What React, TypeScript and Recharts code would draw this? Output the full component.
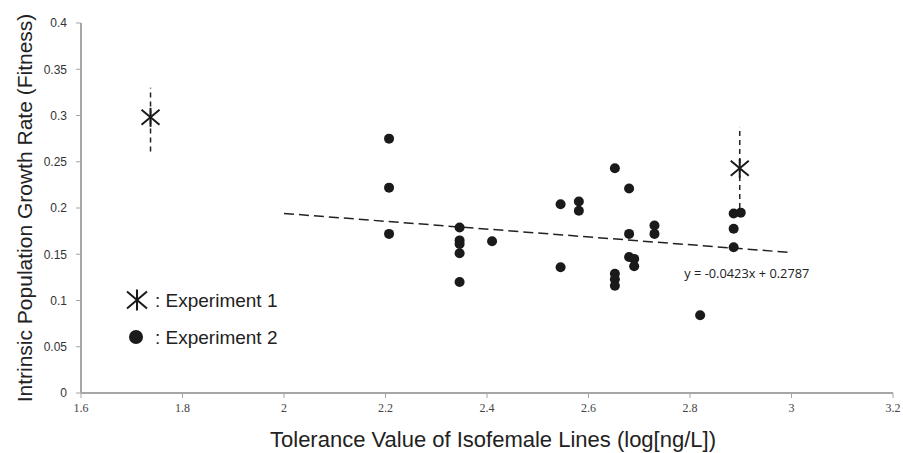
import React from 'react';
import { ScatterChart, Scatter, XAxis, YAxis, ErrorBar, Legend, ReferenceDot } from 'recharts';

const xTicks = [1.6, 1.8, 2, 2.2, 2.4, 2.6, 2.8, 3, 3.2];
const yTicks = [0, 0.05, 0.1, 0.15, 0.2, 0.25, 0.3, 0.35, 0.4];

// Experiment 1 (stars with dashed error bars)
const exp1X = [1.737, 2.898];
const exp1Y = [0.298, 0.243];
const exp1Err: [number, number][] = [[0.037, 0.032], [0.043, 0.044]];

// Experiment 2 (filled dots)
const exp2X = [
  2.207, 2.207, 2.207,
  2.346, 2.346, 2.346, 2.346, 2.346,
  2.41,
  2.545, 2.545,
  2.581, 2.581,
  2.652, 2.652, 2.652, 2.652,
  2.68, 2.68, 2.68,
  2.69, 2.69,
  2.73, 2.73,
  2.82,
  2.886, 2.886, 2.886, 2.9,
];
const exp2Y = [
  0.275, 0.222, 0.172,
  0.179, 0.165, 0.161, 0.151, 0.12,
  0.164,
  0.204, 0.136,
  0.207, 0.197,
  0.243, 0.129, 0.123, 0.116,
  0.221, 0.172, 0.147,
  0.145, 0.137,
  0.181, 0.172,
  0.084,
  0.194, 0.1775, 0.1576, 0.195,
];

// linear trend line end points
const trendX = [2, 3];
const trendY = [0.1941, 0.1518];
const equationText = 'y = -0.0423x + 0.2787';
const equationAt = { x: 2.912, y: 0.129 };

const exp1 = exp1X.map((x, i) => ({ x, y: exp1Y[i], err: exp1Err[i] }));
const exp2 = exp2X.map((x, i) => ({ x, y: exp2Y[i] }));
const trend = trendX.map((x, i) => ({ x, y: trendY[i] }));

const INK = '#1a1a1a';
const AXIS = '#a6a6a6';
const SANS = '"Liberation Sans", Arial, sans-serif';

const Star = ({ cx, cy, s = 9 }: { cx: number; cy: number; s?: number }) => (
  <g stroke={INK} strokeWidth={2}>
    <line x1={cx} y1={cy - s - 0.5} x2={cx} y2={cy + s + 0.5} />
    <line x1={cx - s} y1={cy - s + 1.5} x2={cx + s} y2={cy + s - 1.5} />
    <line x1={cx - s} y1={cy + s - 1.5} x2={cx + s} y2={cy - s + 1.5} />
  </g>
);

const LegendBox = () => (
  <div style={{ fontFamily: SANS, fontSize: 19, color: '#222', lineHeight: 1 }}>
    <div style={{ display: 'flex', alignItems: 'center', height: 24 }}>
      <svg width={22} height={24}><Star cx={11} cy={12} s={10} /></svg>
      <span style={{ marginLeft: 7 }}>: Experiment 1</span>
    </div>
    <div style={{ display: 'flex', alignItems: 'center', height: 24, marginTop: 13 }}>
      <svg width={22} height={20}><circle cx={10} cy={10} r={7} fill={INK} /></svg>
      <span style={{ marginLeft: 7 }}>: Experiment 2</span>
    </div>
  </div>
);

export default function App() {
  return (
    <div style={{ position: 'absolute', left: 0, top: 0, background: '#fff' }}>
      <ScatterChart width={903} height={453} margin={{ top: 23, right: 10, bottom: 0, left: 0 }}>
        <XAxis
          type="number"
          dataKey="x"
          domain={[1.6, 3.2]}
          ticks={xTicks}
          height={60}
          axisLine={{ stroke: AXIS, strokeWidth: 2 }}
          tickLine={{ stroke: AXIS }}
          tickSize={5}
          tickMargin={5}
          tick={{ fontFamily: '"Liberation Serif", serif', fontSize: 12, fill: '#444' }}
          label={{
            value: 'Tolerance Value of Isofemale Lines (log[ng/L])',
            position: 'center',
            dx: 6,
            dy: 16,
            style: { fontFamily: SANS, fontSize: 22, fill: '#222' },
          }}
        />
        <YAxis
          type="number"
          dataKey="y"
          domain={[0, 0.4]}
          ticks={yTicks}
          width={81}
          axisLine={{ stroke: AXIS, strokeWidth: 2 }}
          tickLine={{ stroke: AXIS }}
          tickSize={5}
          tickMargin={9}
          tick={{ fontFamily: SANS, fontSize: 12, fill: '#333' }}
          label={{
            value: 'Intrinsic Population Growth Rate (Fitness)',
            angle: -90,
            position: 'center',
            dx: -16,
            style: { fontFamily: SANS, fontSize: 21, fill: '#222', textAnchor: 'middle' },
          }}
        />
        <Scatter
          data={trend}
          isAnimationActive={false}
          line={{ stroke: '#222', strokeWidth: 1.5, strokeDasharray: '10 5' }}
          shape={() => <g />}
          legendType="none"
        />
        <Scatter
          data={exp2}
          isAnimationActive={false}
          shape={(p: any) => <circle cx={p.cx} cy={p.cy} r={5} fill={INK} />}
        />
        <Scatter
          data={exp1}
          isAnimationActive={false}
          shape={(p: any) => <Star cx={p.cx} cy={p.cy} />}
        >
          <ErrorBar dataKey="err" direction="y" width={0} stroke="#222" strokeWidth={1.5} strokeDasharray="5 4" />
        </Scatter>
        <ReferenceDot
          x={equationAt.x}
          y={equationAt.y}
          r={0}
          fill="none"
          stroke="none"
          label={{
            value: equationText,
            position: 'center',
            style: { fontFamily: '"Open Sans", sans-serif', fontSize: 12.8, fill: '#222' },
          }}
        />
        <Legend
          layout="vertical"
          align="center"
          verticalAlign="middle"
          content={() => <LegendBox />}
          wrapperStyle={{ left: 126, top: 288, width: 200 }}
        />
      </ScatterChart>
    </div>
  );
}
